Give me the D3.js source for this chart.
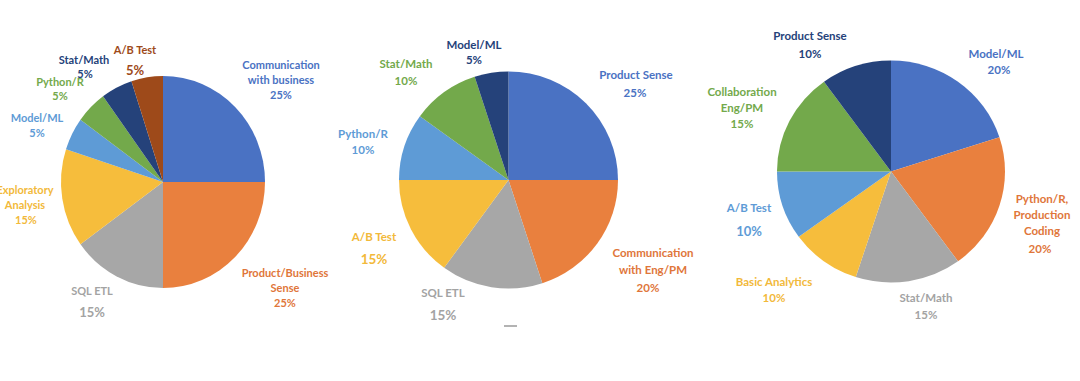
<!DOCTYPE html>
<html>
<head>
<meta charset="utf-8">
<script src="https://cdn.jsdelivr.net/npm/d3@7"></script>
<style>
  html, body { margin: 0; padding: 0; background: #ffffff; }
  svg { display: block; }
  text { font-family: Lato, "Open Sans", sans-serif; font-weight: 700; }
</style>
</head>
<body>
<svg id="chart" width="1080" height="381"></svg>
<script>
// ---- Data ----
const categories1 = ["Communication with business", "Product/Business Sense", "SQL ETL", "Exploratory Analysis", "Model/ML", "Python/R", "Stat/Math", "A/B Test"];
const values1 = [25, 25, 15, 15, 5, 5, 5, 5];

const categories2 = ["Product Sense", "Communication with Eng/PM", "SQL ETL", "A/B Test", "Python/R", "Stat/Math", "Model/ML"];
const values2 = [25, 20, 15, 15, 10, 10, 5];

const categories3 = ["Model/ML", "Python/R, Production Coding", "Stat/Math", "Basic Analytics", "A/B Test", "Collaboration Eng/PM", "Product Sense"];
const values3 = [20, 20, 15, 10, 10, 15, 10];

// label line breaks (text only)
const labelLines1 = [["Communication", "with business"], ["Product/Business", "Sense"], ["SQL ETL"], ["Exploratory", "Analysis"], ["Model/ML"], ["Python/R"], ["Stat/Math"], ["A/B Test"]];
const labelLines2 = [["Product Sense"], ["Communication", "with Eng/PM"], ["SQL ETL"], ["A/B Test"], ["Python/R"], ["Stat/Math"], ["Model/ML"]];
const labelLines3 = [["Model/ML"], ["Python/R,", "Production", "Coding"], ["Stat/Math"], ["Basic Analytics"], ["A/B Test"], ["Collaboration", "Eng/PM"], ["Product Sense"]];

// ---- Styles / layout ----
const C = { blue: "#4a72c3", orange: "#e9803e", gray: "#a7a7a7", gold: "#f6bd3c", lblue: "#5e9bd6", green: "#73a94b", navy: "#25427a", brown: "#9e4a1a" };
const colors1 = [C.blue, C.orange, C.gray, C.gold, C.lblue, C.green, C.navy, C.brown];
const colors2 = [C.blue, C.orange, C.gray, C.gold, C.lblue, C.green, C.navy];
const colors3 = [C.blue, C.orange, C.gray, C.gold, C.lblue, C.green, C.navy];
const textColors1 = ["#4a72c3", "#e0763a", "#a3a3a3", "#f2b93a", "#5e9bd6", "#73a94b", "#25427a", "#9e4a1a"];
const textColors2 = ["#4a72c3", "#e0763a", "#a3a3a3", "#f2b93a", "#5e9bd6", "#73a94b", "#25427a"];
const textColors3 = ["#4a72c3", "#e0763a", "#a3a3a3", "#f2b93a", "#5e9bd6", "#73a94b", "#25427a"];

// layout: [x, y of first line, line gap, pct y, pct size, name size, pct x offset]
const layout1 = [
  [281, 64, 15.3, 94, 11, 11, 0],
  [285, 272, 15.3, 302, 11, 11, 0],
  [92, 290, 15, 312, 13, 11, 0],
  [25, 189, 15, 219, 11, 11, 1],
  [37, 117, 15, 132, 11, 11, 0],
  [60, 81, 15, 95, 11, 11, 0],
  [84, 59, 15, 73.5, 11, 11, 1],
  [135, 49, 15, 70, 13, 11, 0]
];
const layout2 = [
  [636, 74.5, 15, 92, 11.5, 11.5, -1],
  [653, 252.5, 16.5, 287, 11.5, 11.5, -5],
  [443, 292, 15, 315, 13.5, 11.5, 0],
  [374, 236, 15, 259, 13.5, 11.5, 0],
  [363, 133.5, 15, 149.5, 11.5, 11.5, 0],
  [406, 63, 15, 80, 11.5, 11.5, 0],
  [474, 44, 15, 59.5, 11.5, 11.5, 0]
];
const layout3 = [
  [996, 53.5, 15, 69.5, 11.5, 11.5, 3],
  [1042, 198.5, 16, 248, 11.5, 11.5, -2],
  [926, 297.5, 15, 314, 11.5, 11.5, 0],
  [774, 281, 15, 297, 11.5, 11.5, 0],
  [749, 207.5, 15, 231, 13, 11.5, 0],
  [742, 91, 16.5, 123.5, 11.5, 11.5, 0],
  [810, 35, 15, 53.5, 11.5, 11.5, 0]
];

const pies = [
  { cats: categories1, vals: values1, colors: colors1, tcolors: textColors1, lines: labelLines1, layout: layout1, cx: 163, cy: 182, rx: 102, ry: 106 },
  { cats: categories2, vals: values2, colors: colors2, tcolors: textColors2, lines: labelLines2, layout: layout2, cx: 508.5, cy: 180, rx: 109.5, ry: 108.5 },
  { cats: categories3, vals: values3, colors: colors3, tcolors: textColors3, lines: labelLines3, layout: layout3, cx: 891, cy: 171.5, rx: 114, ry: 111 }
];

const svg = d3.select("#chart");
const pieGen = d3.pie().sort(null).value(d => d.v).startAngle(0).endAngle(2 * Math.PI);

pies.forEach(p => {
  const data = p.cats.map((c, i) => ({ c, v: p.vals[i], i }));
  const arcs = pieGen(data);
  const arc = d3.arc().innerRadius(0).outerRadius(p.rx);
  const g = svg.append("g")
    .attr("transform", `translate(${p.cx},${p.cy}) scale(1,${p.ry / p.rx})`);
  g.selectAll("path").data(arcs).join("path")
    .attr("d", arc)
    .attr("fill", d => p.colors[d.data.i]);

  const lg = svg.append("g");
  arcs.forEach(d => {
    const i = d.data.i;
    const [x, y0, gap, py, psz, nsz, pdx] = p.layout[i];
    const col = p.tcolors[i];
    p.lines[i].forEach((ln, k) => {
      lg.append("text")
        .attr("x", x).attr("y", y0 + k * gap)
        .attr("text-anchor", "middle").attr("dominant-baseline", "central")
        .attr("font-size", nsz).attr("fill", col)
        .text(ln);
    });
    lg.append("text")
      .attr("x", x + pdx).attr("y", py)
      .attr("text-anchor", "middle").attr("dominant-baseline", "central")
      .attr("font-size", psz).attr("fill", col)
      .text(d3.format(".0f")(d.data.v) + "%");
  });
});

// small stray dash under middle chart
svg.append("line").attr("x1", 504).attr("x2", 517).attr("y1", 326).attr("y2", 326)
  .attr("stroke", "#9a9a9a").attr("stroke-width", 1.5);
</script>
</body>
</html>
